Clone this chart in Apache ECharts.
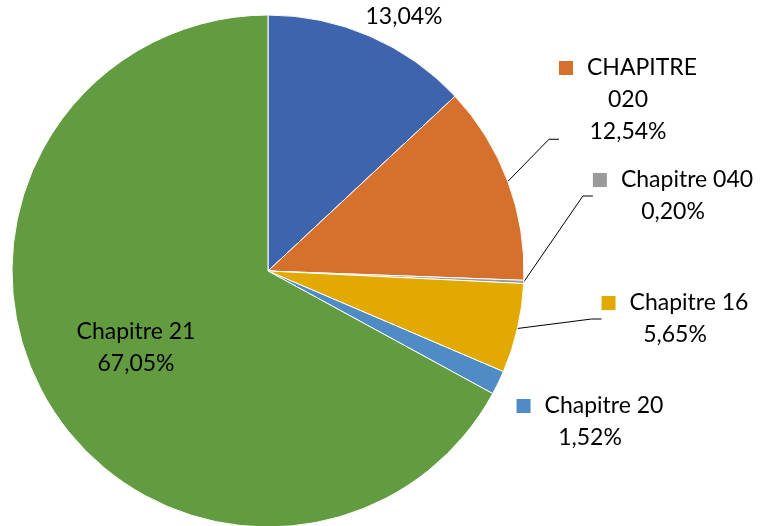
<!DOCTYPE html>
<html>
<head>
<meta charset="utf-8">
<script src="https://cdn.jsdelivr.net/npm/echarts@6/dist/echarts.min.js"></script>
<style>
  html, body { margin: 0; padding: 0; background: #fff; }
  #chart { width: 762px; height: 526px; }
</style>
</head>
<body>
<div id="chart"></div>
<script>
// données
var categories = ['Chapitre 10', 'CHAPITRE 020', 'Chapitre 040', 'Chapitre 16', 'Chapitre 20', 'Chapitre 21'];
var parts = [13.04, 12.54, 0.20, 5.65, 1.52, 67.05];
var couleurs = ['#3E64AE', '#D5702D', '#9A9A9A', '#E2AA00', '#4F8BC5', '#629B40'];

// position du centre de chaque étiquette
var labelPos = [[404, 17], [628, 137], [673, 196], [675, 319], [590, 422], [136, 348]];
var showLine = [false, true, true, true, false, false];

function pct(v) {
    return v.toFixed(2).replace('.', ',') + '%';
}

var myChart = echarts.init(document.getElementById('chart'));

var data = categories.map(function (c, i) {
    var fmt;
    var lbl = {};
    if (i === 0) {
        fmt = '{p|' + pct(parts[i]) + '}';
    } else if (i === 5) {
        fmt = '{p|' + c + '}\n{p|' + pct(parts[i]) + '}';
        lbl.position = 'inside';
    } else if (i === 1) {
        // ligne vide en bas pour que le trait arrive vers "12,54%"
        fmt = '{sq|}{gap|}{p|CHAPITRE}\n{p|020}\n{p|' + pct(parts[i]) + '}\n{blank|}';
    } else {
        fmt = '{sq|}{gap|}{p|' + c + '}\n{p|' + pct(parts[i]) + '}';
    }
    lbl.formatter = fmt;
    lbl.rich = {
        sq: { width: 14, height: 14, backgroundColor: couleurs[i] },
        gap: { width: 14 },
        blank: { height: 74, lineHeight: 74 },
        p: { fontSize: 23, color: '#000', lineHeight: 32, fontFamily: 'Lato' }
    };
    return {
        name: c,
        value: parts[i],
        itemStyle: { color: couleurs[i] },
        label: lbl,
        labelLine: { show: showLine[i] }
    };
});

myChart.setOption({
    animation: false,
    series: [
        {
            type: 'pie',
            center: [268, 271],
            radius: 256,
            startAngle: 90,
            clockwise: true,
            itemStyle: {
                borderColor: '#fff',
                borderWidth: 1
            },
            label: {
                show: true,
                position: 'outside',
                align: 'center'
            },
            labelLine: {
                show: true,
                length: 10,
                length2: 10,
                lineStyle: { color: '#000', width: 1 }
            },
            labelLayout: function (params) {
                var p = labelPos[params.dataIndex];
                return {
                    x: p[0],
                    y: p[1],
                    align: 'center',
                    verticalAlign: 'middle'
                };
            },
            data: data
        }
    ]
});
</script>
</body>
</html>
